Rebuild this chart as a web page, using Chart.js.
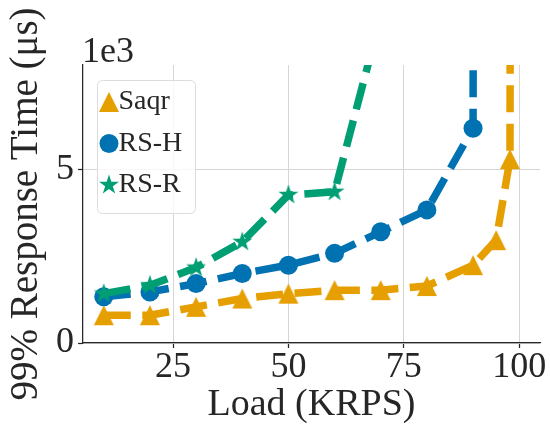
<!DOCTYPE html>
<html>
<head>
<meta charset="utf-8">
<script src="https://cdn.jsdelivr.net/npm/chart.js@4/dist/chart.umd.min.js"></script>
<style>
  html, body { margin: 0; padding: 0; background: #fff; }
</style>
</head>
<body>
<canvas id="myChart" width="550" height="432"></canvas>
<script>
// Load (KRPS) and 99th percentile response time (us), per system
const saqrLoad = [10, 20, 30, 40, 50, 60, 70, 80, 90, 95, 98, 100];
const saqrP99 = [800, 800, 1040, 1280, 1420, 1520, 1520, 1640, 2240, 2960, 5290, 200000];
const rshLoad = [10, 20, 30, 40, 50, 60, 70, 80, 90, 100];
const rshP99 = [1330, 1470, 1710, 2000, 2240, 2580, 3200, 3830, 6180, 900000];
const rsrLoad = [10, 20, 30, 40, 50, 60, 70];
const rsrP99 = [1420, 1660, 2170, 2910, 4260, 4350, 9400];

const xTicks = [25, 50, 75, 100];
const yTicks = [0, 5000];

const orange = '#e69f00';
const blue = '#0072b2';
const green = '#009e73';
const ink = '#262626';
const serif = '"Liberation Serif", "Times New Roman", serif';

// matplotlib-like filled markers
function makeMarker(kind, color) {
    let c = document.createElement('canvas');
    c.width = 24;
    c.height = 24;
    let g = c.getContext('2d');
    g.fillStyle = color;
    g.beginPath();
    if (kind === 'triangle') {
        g.moveTo(12, 2);
        g.lineTo(22, 22);
        g.lineTo(2, 22);
    } else {
        for (let k = 0; k < 10; k++) {
            let r = k % 2 ? 10.5 * 0.382 : 10.5;
            let a = -Math.PI / 2 + k * Math.PI / 5;
            g.lineTo(12 + r * Math.cos(a), 12 + r * Math.sin(a));
        }
    }
    g.closePath();
    g.fill();
    return c;
}

function toPoints(xs, ys) {
    return xs.map((x, i) => ({x: x, y: ys[i]}));
}

const lineStyle = {
    borderWidth: 7.5,
    borderDash: [27, 11.5],
    borderJoinStyle: 'round',
    pointBorderWidth: 0,
    tension: 0,
    clip: 0
};

const boxLegend = {
    id: 'boxLegend',
    afterDraw(chart) {
        let ctx = chart.ctx;
        let area = chart.chartArea;
        let x0 = area.left + 14;
        let y0 = area.top + 15;
        ctx.save();
        ctx.beginPath();
        ctx.roundRect(x0 + 0.5, y0 + 0.5, 98, 133, 5);
        ctx.fillStyle = 'rgba(255,255,255,0.8)';
        ctx.fill();
        ctx.strokeStyle = '#dcdcdc';
        ctx.lineWidth = 1;
        ctx.stroke();
        chart.data.datasets.forEach((ds, i) => {
            let cy = y0 + 22 + i * 41.5;
            ctx.fillStyle = ds.backgroundColor;
            Chart.helpers.drawPoint(ctx, {pointStyle: ds.pointStyle, radius: ds.pointRadius, borderWidth: 0, rotation: 0}, x0 + 12, cy);
            ctx.fillStyle = ink;
            ctx.font = '28px ' + serif;
            ctx.textAlign = 'left';
            ctx.textBaseline = 'middle';
            ctx.fillText(ds.label, x0 + 21.5, cy);
        });
        // offset text of the y axis
        ctx.font = '36px ' + serif;
        ctx.textBaseline = 'alphabetic';
        ctx.fillText('1e3', area.left - 1, area.top - 3.5);
        ctx.restore();
    }
};

new Chart(document.getElementById('myChart'), {
    type: 'line',
    data: {
        datasets: [
            Object.assign({label: 'Saqr', data: toPoints(saqrLoad, saqrP99), borderColor: orange, backgroundColor: orange,
                pointStyle: makeMarker('triangle', orange), pointRadius: 10, order: 3}, lineStyle),
            Object.assign({label: 'RS-H', data: toPoints(rshLoad, rshP99), borderColor: blue, backgroundColor: blue,
                pointStyle: 'circle', pointRadius: 9.5, order: 2}, lineStyle),
            Object.assign({label: 'RS-R', data: toPoints(rsrLoad, rsrP99), borderColor: green, backgroundColor: green,
                pointStyle: makeMarker('star', green), pointRadius: 10, order: 1}, lineStyle)
        ]
    },
    options: {
        responsive: false,
        animation: false,
        events: [],
        layout: {padding: {top: 65, right: 8, bottom: 0, left: 0}},
        plugins: {legend: {display: false}, tooltip: {enabled: false}},
        scales: {
            x: {
                type: 'linear',
                min: 5.5,
                max: 104.5,
                afterBuildTicks: (axis) => { axis.ticks = xTicks.map(v => ({value: v})); },
                afterFit: (axis) => { axis.height = 89; },
                grid: {color: '#d6d6d6', lineWidth: 1, tickColor: ink, tickLength: 5, tickWidth: 1.25},
                border: {color: ink, width: 1.25},
                ticks: {color: ink, font: {family: serif, size: 36, lineHeight: 1}, padding: 2, maxRotation: 0},
                title: {display: true, text: 'Load (KRPS)', color: ink, font: {family: serif, size: 38, lineHeight: 1.2}, padding: {top: 0, bottom: 4}}
            },
            y: {
                min: 0,
                max: 8000,
                afterBuildTicks: (axis) => { axis.ticks = yTicks.map(v => ({value: v})); },
                afterFit: (axis) => { axis.width = 83; },
                grid: {color: '#d6d6d6', lineWidth: 1, tickColor: ink, tickLength: 5, tickWidth: 1.25},
                border: {color: ink, width: 1.25},
                ticks: {color: ink, font: {family: serif, size: 36, lineHeight: 1}, padding: 4, callback: (v) => v / 1000},
                title: {display: true, text: '99% Response Time (μs)', color: ink, font: {family: serif, size: 39, lineHeight: 1.2}, padding: {top: 3.5, bottom: 0}}
            }
        }
    },
    plugins: [boxLegend]
});
</script>
</body>
</html>
